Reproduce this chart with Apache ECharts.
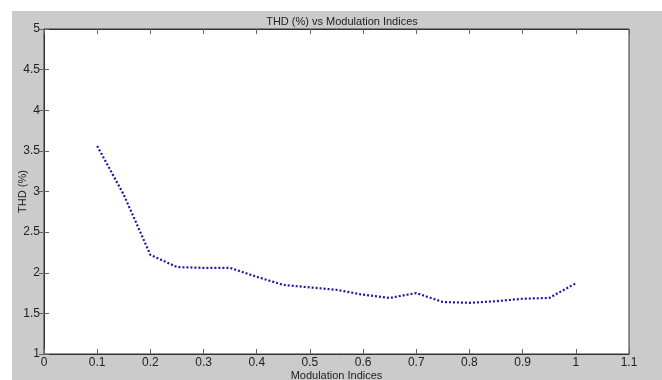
<!DOCTYPE html>
<html>
<head>
<meta charset="utf-8">
<script src="https://cdn.jsdelivr.net/npm/echarts@6/dist/echarts.min.js"></script>
<style>
  html, body { margin: 0; padding: 0; background: #ffffff; }
  #chart {
    position: absolute;
    left: 12px;
    top: 11px;
    width: 650px;
    height: 369px;
    background: #cbcbcb;
  }
</style>
</head>
<body>
<div id="chart"></div>
<script>
// modulation index (x) and THD in % (y)
const modIndex = [0.1, 0.15, 0.2, 0.25, 0.3, 0.35, 0.4, 0.45, 0.5, 0.55,
  0.6, 0.65, 0.7, 0.75, 0.8, 0.85, 0.9, 0.95, 1.0];
const thd = [3.56, 2.96, 2.22, 2.07, 2.06, 2.06, 1.95, 1.85, 1.82, 1.79,
  1.73, 1.69, 1.75, 1.64, 1.63, 1.65, 1.68, 1.69, 1.87];
const xTicks = [0, 0.1, 0.2, 0.3, 0.4, 0.5, 0.6, 0.7, 0.8, 0.9, 1, 1.1];
const yTicks = [1, 1.5, 2, 2.5, 3, 3.5, 4, 4.5, 5];

const font = "'Liberation Sans Narrow', 'Liberation Sans', Arial, sans-serif";
const tickLine = { show: true, inside: true, length: 5, lineStyle: { color: "#666", width: 1 } };
const noLabel = { show: false };

const chart = echarts.init(document.getElementById("chart"));

const seriesData = [];
modIndex.forEach((m, i) => {
  seriesData.push([m, thd[i]]);
});

chart.setOption({
  animation: false,
  title: {
    text: "THD (%) vs Modulation Indices",
    left: 325,
    textAlign: "center",
    top: 0,
    textStyle: { fontFamily: font, fontSize: 11, fontWeight: "normal", color: "#222" },
  },
  grid: {
    left: 32,
    right: 33,
    top: 18,
    bottom: 26,
    containLabel: false,
    outerBoundsMode: "none",
    show: true,
    backgroundColor: "#ffffff",
    borderColor: "#333",
    borderWidth: 1,
  },
  xAxis: [
    {
      type: "value",
      min: 0,
      max: 1.1,
      interval: 0.1,
      name: "Modulation Indices",
      nameLocation: "middle",
      nameGap: 16,
      nameMoveOverlap: false,
      nameTextStyle: { fontFamily: font, fontSize: 11, color: "#222" },
      axisLine: { show: true, lineStyle: { color: "#333" } },
      axisTick: tickLine,
      splitLine: { show: false },
      axisLabel: {
        margin: 3,
        fontFamily: font,
        fontSize: 12,
        color: "#222",
        customValues: xTicks,
        formatter: (v) => String(Math.round(v * 10) / 10),
      },
    },
    {
      type: "value",
      position: "top",
      min: 0,
      max: 1.1,
      interval: 0.1,
      axisLine: { show: true, lineStyle: { color: "#333" } },
      axisTick: tickLine,
      splitLine: { show: false },
      axisLabel: noLabel,
    },
  ],
  yAxis: [
    {
      type: "value",
      min: 1,
      max: 5,
      interval: 0.5,
      name: "THD (%)",
      nameLocation: "middle",
      nameGap: 16,
      nameMoveOverlap: false,
      nameTextStyle: { fontFamily: font, fontSize: 11, color: "#222" },
      axisLine: { show: true, lineStyle: { color: "#333" } },
      axisTick: tickLine,
      splitLine: { show: false },
      axisLabel: {
        margin: 4,
        fontFamily: font,
        fontSize: 12,
        color: "#222",
        customValues: yTicks,
        formatter: (v) => String(v),
      },
    },
    {
      type: "value",
      position: "right",
      min: 1,
      max: 5,
      interval: 0.5,
      axisLine: { show: true, lineStyle: { color: "#333" } },
      axisTick: tickLine,
      splitLine: { show: false },
      axisLabel: noLabel,
    },
  ],
  series: [
    {
      type: "line",
      data: seriesData,
      showSymbol: false,
      symbol: "none",
      lineStyle: { color: "#1a1aa6", width: 2.2, type: [2, 2], cap: "butt" },
    },
  ],
});
</script>
</body>
</html>
